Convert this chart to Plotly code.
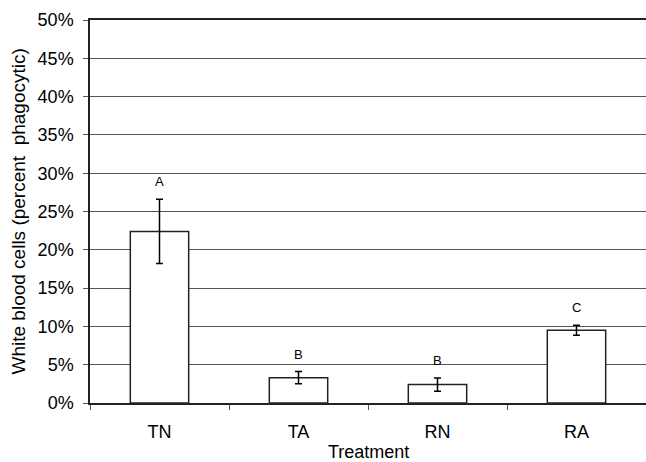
import plotly.graph_objects as go

treatments = ["TN", "TA", "RN", "RA"]
percent_phagocytic = [22.4, 3.3, 2.4, 9.5]
error_values = [4.2, 0.8, 0.85, 0.65]
group_letters = ["A", "B", "B", "C"]
y_ticks = [0, 5, 10, 15, 20, 25, 30, 35, 40, 45, 50]

font_family = "Liberation Sans, Arial, sans-serif"

fig = go.Figure()
fig.add_trace(go.Bar(
    x=treatments,
    y=percent_phagocytic,
    width=0.42,
    marker=dict(color="white", line=dict(color="#222", width=1.5)),
    error_y=dict(type="data", array=error_values, visible=True,
                 color="black", thickness=1.5, width=3.5),
    showlegend=False,
))

for t, v, e, letter in zip(treatments, percent_phagocytic, error_values, group_letters):
    fig.add_annotation(x=t, y=v + e, text=letter, showarrow=False,
                       yanchor="bottom", yshift=8,
                       font=dict(family=font_family, size=13, color="black"))

# axis titles
fig.add_annotation(xref="paper", yref="paper", x=0, y=0.5, xshift=-72,
                   text="White blood cells (percent&nbsp; phagocytic)", textangle=-90,
                   showarrow=False, xanchor="center", yanchor="middle",
                   font=dict(family=font_family, size=19, color="black"))
fig.add_annotation(xref="paper", yref="paper", x=0.5, y=0, yshift=-49,
                   text="Treatment", showarrow=False,
                   xanchor="center", yanchor="middle",
                   font=dict(family=font_family, size=18, color="black"))

fig.update_layout(
    width=646, height=462,
    margin=dict(l=90, r=0, t=20, b=59),
    plot_bgcolor="white", paper_bgcolor="white",
    font=dict(family=font_family, color="black", size=17),
)
fig.update_xaxes(
    showline=True, linecolor="#222", linewidth=1.5, mirror=True,
    ticks="outside", ticklen=5, tickcolor="#555", tickson="boundaries",
    showgrid=False, ticklabelstandoff=12,
    tickfont=dict(size=18),
)
fig.update_yaxes(
    range=[0, 50], tickvals=y_ticks, ticktext=[f"{v}%" for v in y_ticks],
    showline=True, linecolor="#222", linewidth=1.5,
    ticks="outside", ticklen=5, tickcolor="#555",
    showgrid=True, gridcolor="#555", gridwidth=1,
    zeroline=False, ticklabelstandoff=6,
    tickfont=dict(size=18),
)

fig.write_html("out.html", config={"displayModeBar": False},
               post_script="document.body.style.margin='0px';")
